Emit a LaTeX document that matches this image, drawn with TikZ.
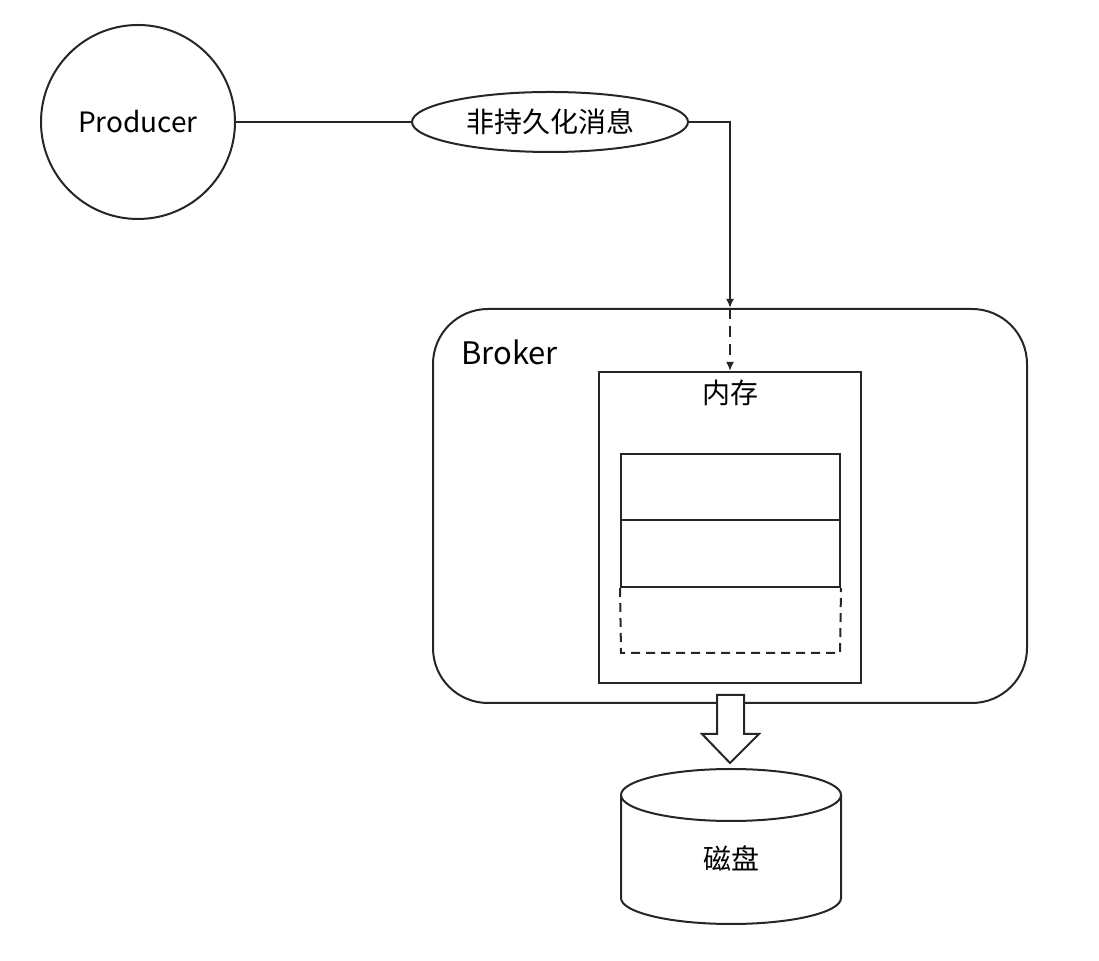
\documentclass[tikz,border=0pt]{standalone}
\usepackage{fontspec}
\setmainfont{Noto Sans CJK SC}
\usetikzlibrary{arrows.meta,shapes.geometric}

\begin{document}
\begin{tikzpicture}[x=1pt, y=1pt, line width=2pt, draw=black!85, font=\fontsize{28}{32}\selectfont]
    \useasboundingbox (0,0) rectangle (1099,960);
    % producer and message
    \node[draw, circle, minimum size=194pt] (producer) at (138,838) {Producer};
    \node[draw, ellipse, minimum width=276pt, minimum height=60pt, inner sep=0pt] (msg) at (550,838) {非持久化消息};
    \draw (producer) -- (msg);
    % broker
    \node[draw, rounded corners=55pt, minimum width=594pt, minimum height=394pt] (broker) at (730,454) {};
    \node[anchor=west, font=\fontsize{31}{35}\selectfont] (brokerlabel) at (457,608) {Broker};
    \node[draw, minimum width=262pt, minimum height=311pt] (mem) at (730,432.5) {};
    \node (memlabel) at (730,567) {内存};
    \node[draw, minimum width=219pt, minimum height=66pt] (slota) at (730.5,473) {};
    \node[draw, minimum width=219pt, minimum height=67pt] (slotb) at (730.5,406.5) {};
    \draw[dashed, dash pattern=on 9pt off 6pt] (slotb.south west) -- (621,307) -- (840,307) -- (slotb.south east);
    \draw[-{Latex[length=9pt, width=8pt]}] (msg.east) -| (broker.north);
    \draw[dashed, dash pattern=on 11pt off 7pt, -{Latex[length=9pt, width=8pt]}] (broker.north) -- (mem.north);
    % disk
    \draw[fill=white] (717,265) -- (717,226) -- (702,226) -- (730,197) -- (759,226) -- (744,226) -- (744,265) -- cycle;
    \draw (621,165) -- (621,62) arc[start angle=180, end angle=360, x radius=110, y radius=26] -- (841,165);
    \draw (731,165) ellipse[x radius=110, y radius=26];
    \node (disk) at (731,102) {磁盘};
\end{tikzpicture}
\end{document}
